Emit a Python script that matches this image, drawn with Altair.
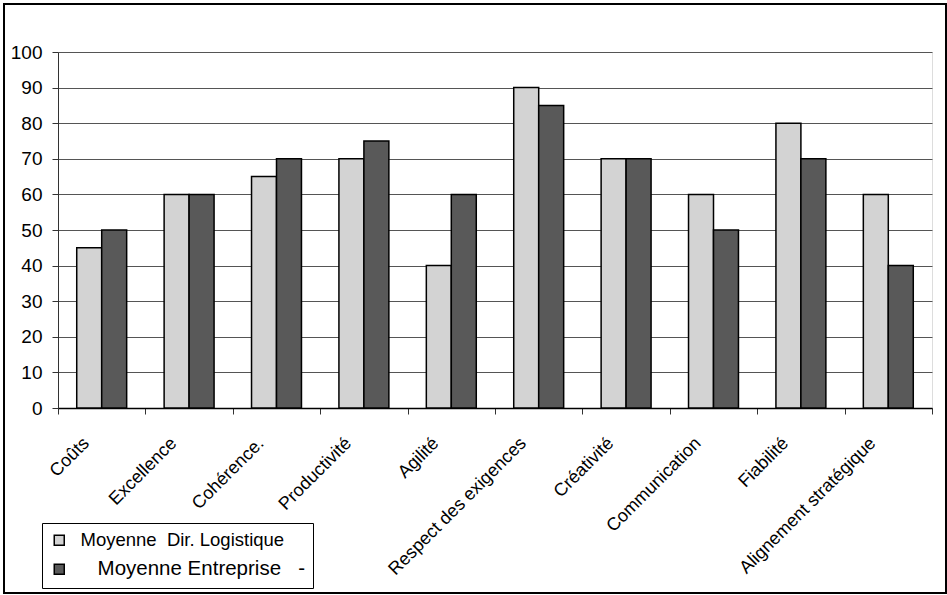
import altair as alt
import pandas as pd

categories = ["Coûts", "Excellence", "Cohérence.", "Productivité", "Agilité",
              "Respect des exigences", "Créativité", "Communication", "Fiabilité",
              "Alignement stratégique"]
series_names = ["Moyenne  Dir. Logistique", "Moyenne Entreprise -"]
logistique = [45, 60, 65, 70, 40, 90, 70, 60, 80, 60]
entreprise = [50, 60, 70, 75, 60, 85, 70, 50, 70, 40]
y_ticks = [0, 10, 20, 30, 40, 50, 60, 70, 80, 90, 100]
colors = ["#d3d3d3", "#595959"]

rows = []
for c, a, b in zip(categories, logistique, entreprise):
    rows.append({"cat": c, "serie": series_names[0], "val": a})
    rows.append({"cat": c, "serie": series_names[1], "val": b})
df = pd.DataFrame(rows)

FONT = "Liberation Sans"
NB = "\u00a0"
WJ = "\u2060"

label_expr = (
    "datum.index === 1 ? '" + WJ + NB * 3 + "' + replace(datum.label, ' -', '" + NB * 2 + " -')"
    " : replace(datum.label, '  ', ' " + NB + "')"
)

bars = alt.Chart(df).mark_bar(stroke="black", strokeWidth=1.5).encode(
    x=alt.X("cat:N", sort=categories, title=None,
            scale=alt.Scale(paddingInner=0, paddingOuter=0),
            axis=alt.Axis(labelAngle=315, labelFontSize=18, labelColor="black",
                          labelFont=FONT, tickBand="extent", tickSize=6,
                          tickColor="#333333", domainColor="black", domainWidth=1.5,
                          labelPadding=20, labelOffset=-22, grid=False, labelLimit=400)),
    xOffset=alt.XOffset("serie:N", sort=series_names,
                        scale=alt.Scale(paddingInner=0, paddingOuter=0.75)),
    y=alt.Y("val:Q", title=None,
            scale=alt.Scale(domain=[0, 100], nice=False),
            axis=alt.Axis(values=y_ticks, labelFontSize=19, labelColor="black",
                          labelFont=FONT, tickSize=6, tickColor="#333333",
                          domainColor="#333333", gridColor="#555555", gridWidth=1,
                          labelPadding=10)),
    color=alt.Color("serie:N", sort=series_names,
                    scale=alt.Scale(domain=series_names, range=colors),
                    legend=alt.Legend(title=None, orient="none", legendX=-16, legendY=471,
                                      direction="vertical",
                                      symbolType="square", symbolSize=100,
                                      symbolStrokeColor="black", symbolStrokeWidth=1.5,
                                      labelFontSize={"expr": "datum.index === 1 ? 20.5 : 18.5"},
                                      labelExpr=label_expr,
                                      labelFont=FONT, labelColor="black",
                                      labelOffset=12, rowPadding=9, padding=8,
                                      strokeColor="black", fillColor="white",
                                      labelLimit=400)),
)

frame = alt.Chart(pd.DataFrame({"k": [0]})).mark_rect(
    fill=None, stroke="black", strokeWidth=2
).encode(x=alt.value(-54), x2=alt.value(888), y=alt.value(-48), y2=alt.value(541))

chart = alt.layer(frame, bars).properties(
    width=874, height=356,
    autosize=alt.AutoSizeParams(type="none"),
    padding={"left": 58, "top": 52, "right": 15, "bottom": 187},
).configure_view(stroke="#808080", strokeWidth=1.5).configure(background="white")

chart.save("out.html", embed_options={"renderer": "svg", "actions": False})
